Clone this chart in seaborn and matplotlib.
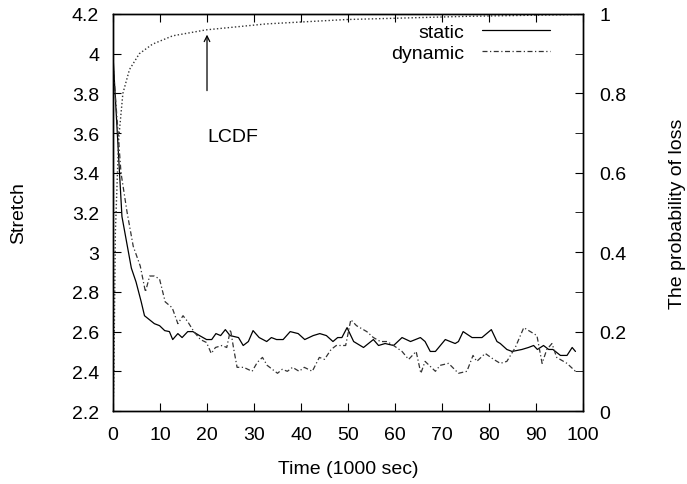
import matplotlib
matplotlib.use('Agg')
import matplotlib.pyplot as plt
from matplotlib.ticker import MultipleLocator, FuncFormatter
import seaborn as sns
import pandas as pd

# ── data ──
static_t = [0, 1.9, 3.9, 4.9, 6.0, 6.7, 8.8, 9.9, 11, 12,
            12.7, 13.8, 14.7, 15.9, 17, 18.4, 19.9, 21, 21.9, 22.9,
            23.9, 24.9, 26.7, 27.7, 28.8, 29.8, 31.1, 32.7, 33.7, 34.8,
            36.2, 37.7, 39.4, 40.8, 42.6, 44, 45.4, 46.8, 47.8, 48.7,
            49.8, 51.2, 53.3, 55.4, 56.5, 57.9, 59.7, 61.5, 63.3, 65.4,
            66.4, 67.5, 68.6, 70.7, 72.8, 73.5, 74.5, 76.4, 78.5, 80.5,
            81.7, 82.4, 83.8, 84.9, 87, 88.4, 89.5, 90.3, 91.6, 92.7,
            93.6, 95.2, 96.6, 97.7, 98.4]
static_v = [3.99, 3.18, 2.92, 2.85, 2.75, 2.68, 2.64, 2.63, 2.605, 2.60,
            2.56, 2.59, 2.57, 2.60, 2.60, 2.58, 2.56, 2.56, 2.59, 2.58,
            2.61, 2.58, 2.57, 2.53, 2.55, 2.605, 2.57, 2.55, 2.57, 2.56,
            2.56, 2.60, 2.59, 2.56, 2.58, 2.59, 2.58, 2.55, 2.57, 2.57,
            2.62, 2.55, 2.52, 2.56, 2.53, 2.54, 2.53, 2.57, 2.55, 2.57,
            2.55, 2.50, 2.50, 2.56, 2.54, 2.55, 2.60, 2.57, 2.57, 2.61,
            2.55, 2.54, 2.51, 2.50, 2.51, 2.52, 2.53, 2.51, 2.53, 2.51,
            2.51, 2.48, 2.48, 2.52, 2.50]

dynamic_t = [0, 1.7, 3.0, 4.3, 5.8, 6.9, 7.8, 8.8, 9.9, 11.1,
             12.6, 13.8, 14.9, 15.9, 17.2, 18.6, 19.9, 20.9, 21.8, 23.2,
             24.2, 25.0, 25.7, 26.4, 27.8, 29.6, 30.7, 31.8, 32.8, 33.9,
             35.0, 36.0, 37.1, 38.2, 39.6, 40.7, 42.4, 43.9, 45.0, 46.4,
             47.5, 48.5, 49.5, 50.6, 51.8, 54.0, 55.4, 56.9, 58.3, 59.7,
             61.5, 62.9, 64.5, 65.5, 66.4, 68.6, 69.6, 71.4, 73.5, 75.3,
             76.6, 77.4, 79.2, 81.0, 82.4, 83.8, 85.6, 87.4, 88.8, 90.2,
             91.3, 92.3, 93.4, 94.4, 96.6, 98.4]
dynamic_v = [3.95, 3.40, 3.20, 3.03, 2.93, 2.80, 2.88, 2.88, 2.865, 2.75,
             2.72, 2.64, 2.68, 2.65, 2.60, 2.56, 2.545, 2.49, 2.52, 2.53,
             2.52, 2.61, 2.51, 2.42, 2.42, 2.40, 2.445, 2.47, 2.43, 2.41,
             2.39, 2.41, 2.40, 2.42, 2.40, 2.42, 2.40, 2.47, 2.46, 2.51,
             2.53, 2.53, 2.53, 2.66, 2.63, 2.60, 2.57, 2.55, 2.55, 2.53,
             2.50, 2.46, 2.50, 2.39, 2.45, 2.40, 2.43, 2.44, 2.39, 2.40,
             2.48, 2.45, 2.49, 2.46, 2.44, 2.45, 2.52, 2.62, 2.60, 2.58,
             2.44, 2.51, 2.54, 2.47, 2.44, 2.40]

lcdf_t = [0, 0.15, 0.5, 1.2, 2.1, 3.5, 5.6, 8.4, 12.7, 19.8, 32.6, 49.6, 75, 100]
lcdf_p = [0, 0.06, 0.45, 0.685, 0.80, 0.86, 0.90, 0.924, 0.945, 0.96, 0.975, 0.986, 0.994, 0.999]

df_static = pd.DataFrame({'t': static_t, 'v': static_v})
df_dynamic = pd.DataFrame({'t': dynamic_t, 'v': dynamic_v})
df_lcdf = pd.DataFrame({'t': lcdf_t, 'p': lcdf_p})

sns.set_style('white')
plt.rcParams['font.family'] = ['Liberation Sans', 'DejaVu Sans']
plt.rcParams['text.color'] = 'black'
plt.rcParams['axes.labelcolor'] = 'black'
plt.rcParams['xtick.color'] = 'black'
plt.rcParams['ytick.color'] = 'black'
FS = 14

fig = plt.figure(figsize=(6.87, 4.85), dpi=100)
ax = fig.add_axes([0.1645, 0.1505, 0.6841, 0.8186])
ax2 = ax.twinx()

sns.lineplot(data=df_static, x='t', y='v', ax=ax, color='black', lw=0.9,
             sort=False, estimator=None, label='static')
sns.lineplot(data=df_dynamic, x='t', y='v', ax=ax, color='#333333', lw=0.9,
             sort=False, estimator=None, label='dynamic', linestyle=(0, (4, 2, 1, 2)))
sns.lineplot(data=df_lcdf, x='t', y='p', ax=ax2, color='#333333', lw=1.0,
             sort=False, estimator=None, linestyle=(0, (1, 1.6)), legend=False)

ax.set_xlim(0, 100)
ax.set_ylim(2.2, 4.2)
ax2.set_ylim(0, 1)

fmt = FuncFormatter(lambda v, p: f'{v:g}')
ax.xaxis.set_major_locator(MultipleLocator(10))
ax.yaxis.set_major_locator(MultipleLocator(0.2))
ax.yaxis.set_major_formatter(fmt)
ax2.yaxis.set_major_locator(MultipleLocator(0.2))
ax2.yaxis.set_minor_locator(MultipleLocator(0.1))
ax2.yaxis.set_major_formatter(fmt)

ax.tick_params(axis='x', direction='in', top=True, bottom=True, length=6,
               labelsize=FS, pad=11)
ax.tick_params(axis='y', direction='in', left=True, right=False, length=6,
               labelsize=FS, pad=10)
ax2.tick_params(axis='y', which='both', direction='in', right=True, length=6,
                labelsize=FS, pad=12)
for a in (ax, ax2):
    for s in a.spines.values():
        s.set_color('black')
        s.set_linewidth(1.0)

ax.set_xlabel('Time (1000 sec)', fontsize=FS, labelpad=12)
ax.set_ylabel('Stretch', fontsize=FS, labelpad=32)
ax2.set_ylabel('The probability of loss', fontsize=FS, labelpad=30)

ax.annotate('', xy=(20, 4.11), xytext=(20, 3.80),
            arrowprops=dict(arrowstyle='->', color='black', lw=0.9))
ax.text(20, 3.585, 'LCDF', fontsize=FS, ha='left', va='center')

ax.legend(loc='upper right', bbox_to_anchor=(0.955, 1.005), frameon=False,
          markerfirst=False, fontsize=FS, handlelength=3.5, labelspacing=0.15,
          borderaxespad=0.2, handletextpad=0.9)

fig.savefig('out.png', dpi=100)
